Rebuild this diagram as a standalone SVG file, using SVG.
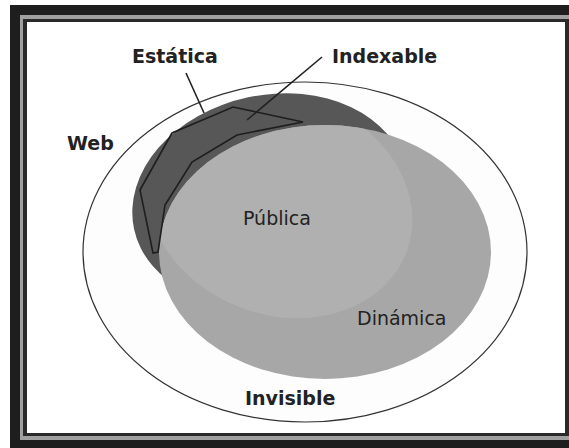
<svg xmlns="http://www.w3.org/2000/svg" width="569" height="448" viewBox="0 0 569 448">
<style>
.lbl{font-family:"DejaVu Sans","Liberation Sans",sans-serif;font-size:19px;fill:#222}
.b{font-weight:bold}
.ptr{stroke:#222;stroke-width:1.6;fill:none}
</style>
<defs>
<clipPath id="clipDin"><ellipse cx="325" cy="252" rx="166" ry="127"/></clipPath>
</defs>
<g id="frame">
<rect x="10" y="5" width="570" height="450" fill="#1e1e1e"/>
<rect x="20" y="15" width="560" height="425" fill="#a0a0a0"/>
<rect x="23" y="19" width="557" height="417" fill="#2a2a2a"/>
<rect x="27" y="22" width="538" height="411" fill="#ffffff"/>
</g>
<g id="web">
<ellipse cx="305" cy="252" rx="222" ry="170" fill="#fdfdfd" stroke="#333" stroke-width="1.2"/>
<text class="lbl b" x="67" y="150">Web</text>
</g>
<g id="estatica">
<ellipse cx="270" cy="200" rx="139" ry="105" fill="#575757" transform="rotate(-12 270 200)"/>
<text class="lbl b" x="132" y="63">Estática</text>
</g>
<g id="dinamica">
<ellipse cx="325" cy="252" rx="166" ry="127" fill="#a7a7a7"/>
<text class="lbl" x="357" y="325">Dinámica</text>
</g>
<g id="publica">
<g clip-path="url(#clipDin)">
<ellipse cx="280" cy="205" rx="135" ry="110" transform="rotate(20 280 205)" fill="#b0b0b0"/>
</g>
<text class="lbl" x="243" y="225">Pública</text>
</g>
<g id="indexable">
<polygon points="233,107 303,122 237,135 192,162 165,205 158,252 153,253 140,190 172,133" fill="none" stroke="#1e1e1e" stroke-width="1.6"/>
<text class="lbl b" x="332" y="63">Indexable</text>
</g>
<g id="invisible">
<text class="lbl b" x="245" y="405">Invisible</text>
</g>
<g id="connectors">
<line class="ptr" x1="186" y1="73" x2="204" y2="113" stroke="#444"/>
<line class="ptr" x1="322" y1="57" x2="247" y2="120"/>
</g>
</svg>
